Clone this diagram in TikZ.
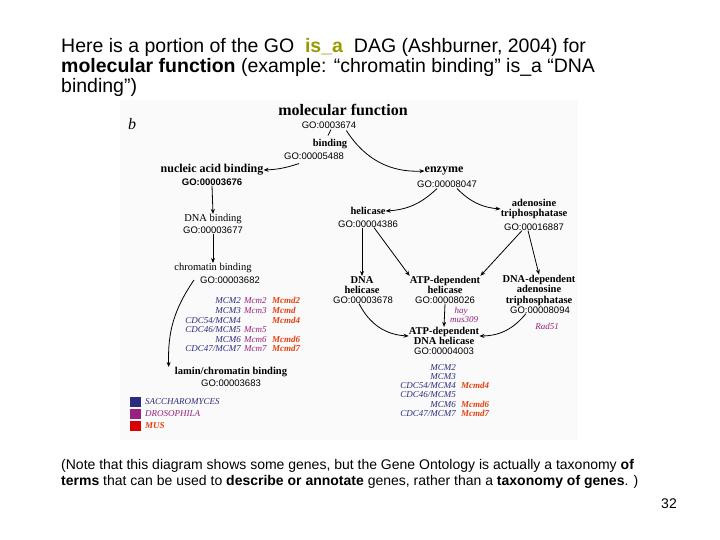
\documentclass[tikz,border=0pt]{standalone}
\usepackage{fontspec}
\setmainfont{Liberation Sans}
\newfontfamily\fserif{Liberation Serif}
\usetikzlibrary{arrows.meta}
\definecolor{ybl}{HTML}{2B2B80}
\definecolor{ymg}{HTML}{992080}
\definecolor{yor}{HTML}{E04010}
\definecolor{isa}{HTML}{999900}
\begin{document}
\begin{tikzpicture}[x=1pt,y=-1pt,
 lab/.style={font=\fserif\fontsize{10.5}{10.5}\selectfont\bfseries,align=center,inner sep=0pt},
 go/.style={font=\fontsize{9.5}{10}\selectfont,inner sep=0pt},
 gn/.style={font=\fserif\itshape\fontsize{9}{10}\selectfont,inner sep=0pt},
 gm/.style={font=\fserif\itshape\bfseries\fontsize{9}{10}\selectfont,inner sep=0pt,text=yor},
 ar/.style={-{Stealth[length=5pt,width=4pt]},thick},
 slide/.style={font=\fontsize{19.5}{20}\selectfont,anchor=west,inner sep=0pt},
 note/.style={font=\fontsize{14}{14}\selectfont,anchor=west,inner sep=0pt}]
\useasboundingbox (0,0) rectangle (720,540);
\fill[white] (0,0) rectangle (720,540);
\fill[black!2] (120,100) rectangle (578,440);
\node[slide] (t1) at (61,47) {Here is a portion of the GO\ \ \textcolor{isa}{\textbf{is\_a}}\ \ DAG (Ashburner, 2004) for};
\node[slide] (t2) at (61,67) {\textbf{molecular function} (example: “chromatin binding” is\_a “DNA};
\node[slide] (t3) at (61,87) {binding”)};
\node[note] (n1) at (61,466) {(Note that this diagram shows some genes, but the Gene Ontology is actually a taxonomy \textbf{of}};
\node[note] (n2) at (61,482) {\textbf{terms} that can be used to \textbf{describe or annotate} genes, rather than a \textbf{taxonomy of genes}. )};
\node[font=\fontsize{14}{14}\selectfont,inner sep=0pt] (pg) at (669,504) {32};

\node[font=\fserif\itshape\fontsize{16}{16}\selectfont,inner sep=0pt] (b) at (132,124) {b};
\node[lab,font=\fserif\bfseries\fontsize{16}{16}\selectfont] (mf) at (343,110) {molecular function};
\node[go] (mfg) at (329,125) {GO:0003674};
\node[lab] (bi) at (330,144) {binding};
\node[go] (big) at (314,156) {GO:00005488};
\node[lab,font=\fserif\bfseries\fontsize{12}{12}\selectfont] (na) at (212,170) {nucleic acid binding};
\node[go,font=\bfseries\fontsize{9.5}{10}\selectfont] (nag) at (212,182) {GO:00003676};
\node[lab,font=\fserif\bfseries\fontsize{12}{12}\selectfont] (en) at (444,171) {enzyme};
\node[go] (eng) at (447,184) {GO:00008047};
\node[lab,font=\fserif\fontsize{10.5}{10}\selectfont] (db) at (213,219) {DNA binding};
\node[go] (dbg) at (213,230) {GO:00003677};
\node[lab] (he) at (368,211) {helicase};
\node[go] (heg) at (368,224) {GO:00004386};
\node[lab,align=center] (ad) at (534,209) {adenosine\\triphosphatase};
\node[go] (adg) at (534,227) {GO:00016887};
\node[lab,font=\fserif\fontsize{10.5}{10}\selectfont] (cb) at (213,268) {chromatin binding};
\node[go] (cbg) at (230,280) {GO:00003682};
\node[lab] (dh) at (362,285) {DNA\\helicase};
\node[go] (dhg) at (363,300) {GO:00003678};
\node[lab] (ah) at (445,285) {ATP-dependent\\helicase};
\node[go] (ahg) at (445,300) {GO:00008026};
\node[lab] (dd) at (539,290) {DNA-dependent\\adenosine\\triphosphatase};
\node[go] (ddg) at (540,310) {GO:00008094};
\node[gn,text=ymg] (hay) at (461,311) {hay};
\node[gn,text=ymg] (mus) at (464,320) {mus309};
\node[gn,text=ymg] (rad) at (547,326) {Rad51};
\node[lab] (adh) at (444,336) {ATP-dependent\\DNA helicase};
\node[go] (adhg) at (444,351) {GO:00004003};
\node[lab] (lc) at (231,372) {lamin/chromatin binding};
\node[go] (lcg) at (231,383) {GO:00003683};
% left gene table
\foreach \y/\a/\b/\c in {303/{MCM2}/{Mcm2}/{Mcmd2},313/{MCM3}/{Mcm3}/{Mcmd},323/{CDC54/MCM4}/{}/{Mcmd4},332/{CDC46/MCM5}/{Mcm5}/{},342/{MCM6}/{Mcm6}/{Mcmd6},351/{CDC47/MCM7}/{Mcm7}/{Mcmd7}}{
 \node[gn,text=ybl,anchor=base east] at (241,\y) {\a};
 \node[gn,text=ymg,anchor=base west] at (244,\y) {\b};
 \node[gm,anchor=base west] at (272,\y) {\c};
}
% right gene table
\foreach \y/\a/\c in {370/{MCM2}/{},379/{MCM3}/{},388/{CDC54/MCM4}/{Mcmd4},397/{CDC46/MCM5}/{},407/{MCM6}/{Mcmd6},416/{CDC47/MCM7}/{Mcmd7}}{
 \node[gn,text=ybl,anchor=base east] at (456,\y) {\a};
 \node[gm,anchor=base west] at (461,\y) {\c};
}
% legend
\fill[ybl] (130,397) rectangle (141,407);
\fill[ymg] (130,409) rectangle (141,419);
\fill[red!85!black] (130,421) rectangle (141,431);
\node[gn,text=ybl,anchor=west] (ls) at (145,402) {SACCHAROMYCES};
\node[gn,text=ymg,anchor=west] (ld) at (145,414) {DROSOPHILA};
\node[gm,anchor=west] (lm) at (145,426) {MUS};
% arrows
\draw[thick] (mfg.south)+(2,1) -- ++(-1,7);
\draw[ar] (big.south west)++(15,4) to[bend left=8] (na.east);
\draw[ar] (mfg.south east)++(-10,2) to[bend right=30] (en.west);
\draw[ar] (nag.south) -- (db.north);
\draw[ar] (dbg.south) -- (cb.north);
\draw[ar] (eng.south)++(-10,1) to[bend left=20] (he.east);
\draw[ar] (eng.south)++(10,1) to[bend right=20] (ad.west);
\draw[ar] (heg.south)++(-6,0) -- (dh.north);
\draw[ar] (heg.south)++(6,0) -- (ah.north west);
\draw[ar] (adg.south)++(-12,0) -- (ah.north east);
\draw[ar] (adg.south)++(-6,0) -- (dd.north);
\draw[ar] (dhg.south)++(-4,0) to[bend right=30] (adh.west);
\draw[ar] (ahg.south) -- (adh.north);
\draw[ar] (ddg.south)++(-14,0) to[bend left=25] (adh.east);
\draw[ar] (cbg.west)++(-6,0) to[bend right=18] ([xshift=-6pt]lc.north west);
\end{tikzpicture}
\end{document}
